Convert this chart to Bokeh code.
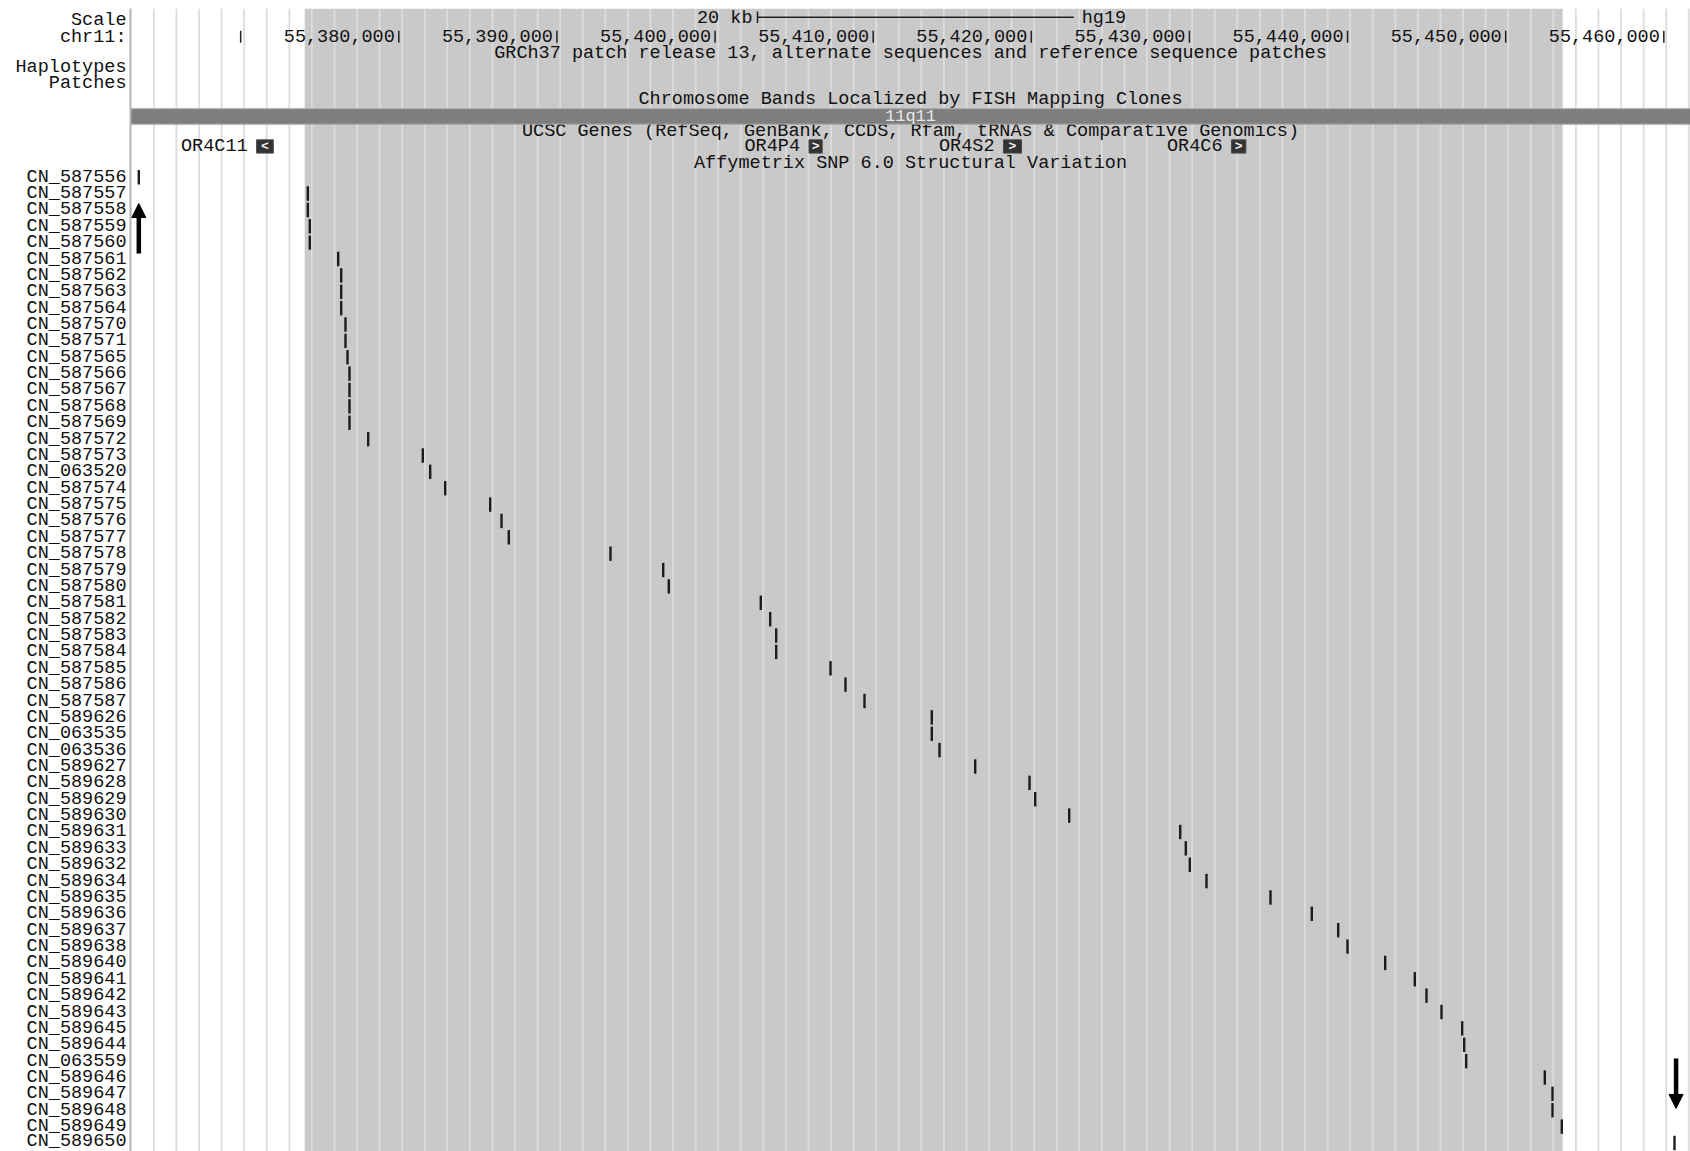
import numpy as np
from bokeh.plotting import figure
from bokeh.models import Range1d, FixedTicker, BoxAnnotation, Arrow, NormalHead
from bokeh.core.properties import value
from bokeh.embed import file_html
from bokeh.resources import INLINE

FONT = "Liberation Mono"
FS = "18.5px"

# ---------------- data ----------------
cn_names = [
    "CN_587556", "CN_587557", "CN_587558", "CN_587559", "CN_587560", "CN_587561",
    "CN_587562", "CN_587563", "CN_587564", "CN_587570", "CN_587571", "CN_587565",
    "CN_587566", "CN_587567", "CN_587568", "CN_587569", "CN_587572", "CN_587573",
    "CN_063520", "CN_587574", "CN_587575", "CN_587576", "CN_587577", "CN_587578",
    "CN_587579", "CN_587580", "CN_587581", "CN_587582", "CN_587583", "CN_587584",
    "CN_587585", "CN_587586", "CN_587587", "CN_589626", "CN_063535", "CN_063536",
    "CN_589627", "CN_589628", "CN_589629", "CN_589630", "CN_589631", "CN_589633",
    "CN_589632", "CN_589634", "CN_589635", "CN_589636", "CN_589637", "CN_589638",
    "CN_589640", "CN_589641", "CN_589642", "CN_589643", "CN_589645", "CN_589644",
    "CN_063559", "CN_589646", "CN_589647", "CN_589648", "CN_589649", "CN_589650",
]
cn_pos = [
    55363558, 55374245, 55374245, 55374372, 55374372, 55376168,
    55376357, 55376357, 55376357, 55376629, 55376629, 55376756,
    55376882, 55376882, 55376882, 55376882, 55378065, 55381518,
    55381986, 55382934, 55385780, 55386495, 55386956, 55393388,
    55396721, 55397075, 55402893, 55403487, 55403867, 55403867,
    55407301, 55408249, 55409451, 55413707, 55413707, 55414194,
    55416452, 55419886, 55420246, 55422396, 55429416, 55429770,
    55430023, 55431079, 55435126, 55437738, 55439408, 55439996,
    55442380, 55444252, 55444992, 55445940, 55447250, 55447376,
    55447502, 55452473, 55452960, 55452960, 55453548, 55460675,
]

axis_ticks = [55370000, 55380000, 55390000, 55400000, 55410000,
              55420000, 55430000, 55440000, 55450000, 55460000]
axis_tick_labels = ["", "55,380,000", "55,390,000", "55,400,000", "55,410,000",
                    "55,420,000", "55,430,000", "55,440,000", "55,450,000", "55,460,000"]

gene_names = ["OR4C11", "OR4P4", "OR4S2", "OR4C6"]
gene_start = [55371008, 55405942, 55418241, 55432660]
gene_end = [55372064, 55406777, 55419380, 55433570]
gene_strand = ["<", ">", ">", ">"]

band_names = ["11q11"]
highlight_start, highlight_end = 55374050, 55453600
scale_bar_start, scale_bar_len = 55402684, 20000
assembly = "hg19"

header_labels = ["Scale", "chr11:", "Haplotypes", "Patches"]
track_titles = [
    "GRCh37 patch release 13, alternate sequences and reference sequence patches",
    "Chromosome Bands Localized by FISH Mapping Clones",
    "UCSC Genes (RefSeq, GenBank, CCDS, Rfam, tRNAs & Comparative Genomics)",
    "Affymetrix SNP 6.0 Structural Variation",
]

# ---------------- layout (style) ----------------
XMIN, XMAX = 55363033, 55461687
YTOP, YBOT = -10.305, 59.52
header_y = [-9.58, -8.55, -6.72, -5.70]
title_y = [-7.57, -4.73, -2.79, -0.86]
XC = (XMIN + XMAX) / 2

p = figure(width=1690, height=1151,
           x_range=Range1d(XMIN, XMAX), y_range=Range1d(YBOT, YTOP),
           x_axis_location=None, y_axis_location="left",
           toolbar_location=None, output_backend="svg",
           min_border_left=130, min_border_right=0,
           min_border_top=8, min_border_bottom=0)
p.outline_line_color = None
p.grid.visible = False
p.background_fill_color = "white"
p.border_fill_color = "white"

row_idx = list(range(len(cn_names)))
yax = p.yaxis[0]
yax.ticker = FixedTicker(ticks=header_y + row_idx)
overrides = {y: lab for y, lab in zip(header_y, header_labels)}
overrides.update({i: n for i, n in zip(row_idx, cn_names)})
yax.major_label_overrides = overrides
yax.major_label_text_font = FONT
yax.major_label_text_font_size = FS
yax.major_label_text_color = "#111111"
yax.major_tick_line_color = None
yax.minor_tick_line_color = None
yax.major_tick_out = 0
yax.major_tick_in = 0
yax.minor_tick_out = 0
yax.axis_line_color = "#b3b3b3"
yax.axis_line_width = 2
yax.major_label_standoff = 4

# highlighted window
p.add_layout(BoxAnnotation(left=highlight_start, right=highlight_end,
                           fill_color="#c9c9c9", fill_alpha=1.0,
                           line_color=None, level="underlay"))

# guide lines
guide_x = np.arange(55364512, XMAX, 1427.4)
p.segment(x0=guide_x, x1=guide_x, y0=YTOP, y1=YBOT,
          line_color="#dcdcdc", line_width=1.8)

# position ruler
p.segment(x0=axis_ticks, x1=axis_ticks, y0=-8.95, y1=-8.22,
          line_color="#222222", line_width=1.5)
p.text(x=axis_ticks, y=-8.62, text=axis_tick_labels, text_align="right",
       text_baseline="middle", x_offset=-4, text_font=value(FONT),
       text_font_size=FS, text_color="#111111")

# scale bar
sb_end = scale_bar_start + scale_bar_len
p.segment(x0=[scale_bar_start], x1=[sb_end], y0=[-9.77], y1=[-9.77],
          line_color="#222222", line_width=1.5)
p.segment(x0=[scale_bar_start, sb_end], x1=[scale_bar_start, sb_end],
          y0=[-10.12], y1=[-9.42], line_color="#222222", line_width=1.5)
p.text(x=[scale_bar_start], y=[-9.72], text=["20 kb"], text_align="right",
       text_baseline="middle", x_offset=-5, text_font=value(FONT),
       text_font_size=FS, text_color="#111111")
p.text(x=[sb_end], y=[-9.72], text=[assembly], text_align="left",
       text_baseline="middle", x_offset=8, text_font=value(FONT),
       text_font_size=FS, text_color="#111111")

# track titles
p.text(x=[XC] * len(track_titles), y=title_y, text=track_titles,
       text_align="center", text_baseline="middle", text_font=value(FONT),
       text_font_size=FS, text_color="#111111")

# chromosome band
p.quad(left=[XMIN], right=[XMAX], top=[-4.18], bottom=[-3.24],
       fill_color="#7e7e7e", line_color="#a9a9a9", line_width=1)
p.text(x=[XC], y=[-3.71], text=band_names, text_align="center",
       text_baseline="middle", text_font=value(FONT), text_font_size="17px",
       text_color="#e8e8e8")

# genes
gene_mid = [(a + b) / 2 for a, b in zip(gene_start, gene_end)]
p.quad(left=gene_start, right=gene_end, top=-2.28, bottom=-1.47,
       fill_color="#333333", line_color="#4a4a4a", line_width=1)
p.text(x=gene_mid, y=-1.87, text=gene_strand, text_align="center",
       text_baseline="middle", text_font=value(FONT), text_font_size="13px",
       text_font_style="bold", text_color="#f0f0f0")
p.text(x=gene_start, y=-1.89, text=gene_names, text_align="right",
       text_baseline="middle", x_offset=-9, text_font=value(FONT),
       text_font_size=FS, text_color="#111111")

# CNV probe features
p.rect(x=cn_pos, y=row_idx, width=2.4, width_units="screen", height=0.88,
       fill_color="#1c1c1c", line_color=None)

# annotation arrows
p.add_layout(Arrow(end=NormalHead(size=14, fill_color="black", line_color="black"),
                   x_start=cn_pos[0], y_start=4.66, x_end=cn_pos[0], y_end=1.61,
                   line_width=4.5, line_color="black"))
p.add_layout(Arrow(end=NormalHead(size=14, fill_color="black", line_color="black"),
                   x_start=cn_pos[-1] + 100, y_start=53.84, x_end=cn_pos[-1] + 100, y_end=56.89,
                   line_width=4.5, line_color="black"))

open("out.html", "w").write(file_html(p, INLINE))
